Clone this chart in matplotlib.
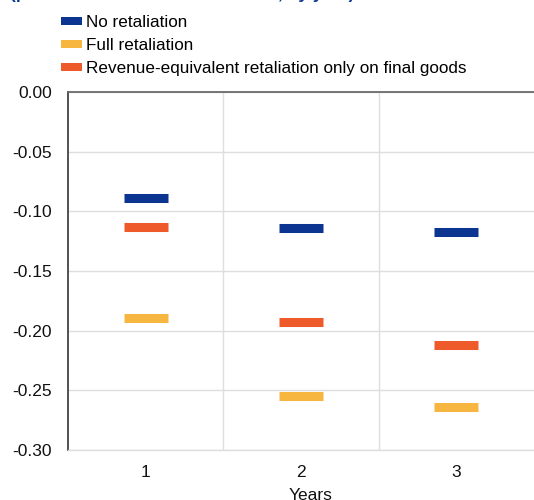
import matplotlib
matplotlib.use("Agg")
import matplotlib.pyplot as plt
from matplotlib.patches import Patch
import numpy as np

plt.rcParams['font.family'] = ['Liberation Sans', 'DejaVu Sans']

years = [1, 2, 3]
no_retaliation = [-0.089, -0.114, -0.117]
full_retaliation = [-0.189, -0.255, -0.264]
final_goods_retaliation = [-0.113, -0.193, -0.212]

series = [
    ("No retaliation", no_retaliation, "#0c3591"),
    ("Full retaliation", full_retaliation, "#f6b63f"),
    ("Revenue-equivalent retaliation only on final goods", final_goods_retaliation, "#ee5a2a"),
]
y_ticks = [0.00, -0.05, -0.10, -0.15, -0.20, -0.25, -0.30]

FS = 12.5

fig = plt.figure(figsize=(5.34, 5.00), dpi=100)
ax = fig.add_axes([68 / 534, 1 - 450 / 500, 1 - 68 / 534, (450 - 92) / 500])

half = 0.142
x = np.array(years, dtype=float)
for label, vals, color in series:
    ax.hlines(vals, x - half, x + half, colors=color, linewidth=6.5,
              capstyle='butt', zorder=3)

ax.set_xlim(0.5, 3.5)
ax.set_ylim(-0.30, 0.0)
ax.set_yticks(y_ticks)
ax.set_yticklabels([f"{v:.2f}" for v in y_ticks])
ax.set_xticks(years)
ax.set_xticks([1.5, 2.5], minor=True)
ax.tick_params(axis='both', which='both', length=0, labelsize=FS, colors='#111111')
ax.tick_params(axis='y', pad=11.5)
ax.tick_params(axis='x', pad=10.5)
ax.grid(axis='y', which='major', color='#dedede', linewidth=1.0)
ax.grid(axis='x', which='minor', color='#dedede', linewidth=1.0)
ax.set_axisbelow(True)

ax.spines['right'].set_visible(False)
ax.spines['bottom'].set_color('#dedede')
ax.spines['bottom'].set_linewidth(1.0)
ax.spines['left'].set_color('#444444')
ax.spines['left'].set_linewidth(1.3)
ax.spines['top'].set_color('#6a6a6a')
ax.spines['top'].set_linewidth(1.3)

ax.set_xlabel("Years", fontsize=FS, labelpad=6, color='#111111')
ax.xaxis.label.set_x(0.52)

handles = [Patch(facecolor=c, edgecolor='none') for _, _, c in series]
labels = [lbl for lbl, _, _ in series]
fig.legend(handles, labels, loc='upper left', bbox_to_anchor=(61 / 534, 1 - 15 / 500),
           frameon=False, fontsize=12.3, handlelength=1.2, handleheight=0.4,
           handletextpad=0.25, labelspacing=0.47, borderpad=0, borderaxespad=0)

fig.text(10 / 534, 1 + 1.5 / 500, "(percent deviation from baseline, by year)",
         color='#0c3591', fontsize=FS, fontweight='bold', va='baseline', ha='left')

fig.savefig("out.png", dpi=100)
